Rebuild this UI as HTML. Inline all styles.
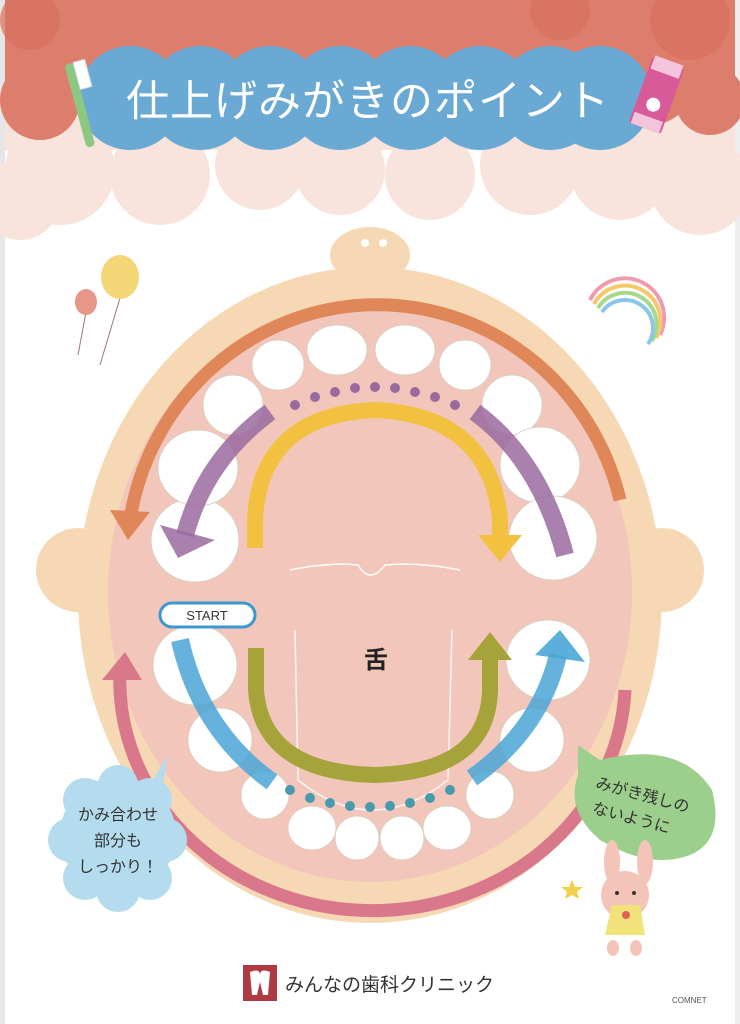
<!DOCTYPE html>
<html><head><meta charset="utf-8"><style>
html,body{margin:0;padding:0;background:#fff;width:740px;height:1024px;overflow:hidden}
svg{display:block}
text{font-family:"Liberation Sans","Noto Sans CJK JP",sans-serif}
</style></head><body>
<svg width="740" height="1024" viewBox="0 0 740 1024" xmlns="http://www.w3.org/2000/svg">
<rect width="740" height="1024" fill="#fff"/>
<rect x="0" y="0" width="5" height="1024" fill="#e6e6e6"/>
<rect x="735" y="0" width="5" height="1024" fill="#eeeeee"/>
<!-- light peach clouds -->
<g fill="#f8e4dc">
<rect x="5" y="0" width="730" height="150"/>
<circle cx="60" cy="170" r="55"/><circle cx="160" cy="175" r="50"/><circle cx="260" cy="165" r="45"/>
<circle cx="340" cy="170" r="45"/><circle cx="430" cy="175" r="45"/><circle cx="530" cy="165" r="50"/>
<circle cx="620" cy="170" r="50"/><circle cx="700" cy="185" r="50"/><circle cx="20" cy="200" r="40"/>
</g>
<!-- red clouds -->
<g fill="#dd7e6c">
<rect x="5" y="0" width="730" height="90"/>
<circle cx="40" cy="100" r="40"/><circle cx="110" cy="80" r="40"/><circle cx="650" cy="80" r="45"/><circle cx="710" cy="100" r="35"/>
<circle cx="250" cy="90" r="30"/><circle cx="480" cy="90" r="30"/>
</g>
<g fill="#d8705e" opacity="0.7"><circle cx="30" cy="20" r="30"/><circle cx="690" cy="20" r="40"/><circle cx="560" cy="10" r="30"/></g>
<!-- title circles -->
<g fill="#6aa9d4">
<circle cx="130" cy="98" r="52"/><circle cx="200" cy="98" r="52"/><circle cx="270" cy="98" r="52"/>
<circle cx="340" cy="98" r="52"/><circle cx="410" cy="98" r="52"/><circle cx="480" cy="98" r="52"/>
<circle cx="550" cy="98" r="52"/><circle cx="600" cy="98" r="52"/>
</g>
<text x="368" y="116" text-anchor="middle" font-size="43" fill="#fff" letter-spacing="1">仕上げみがきのポイント</text>
<!-- toothbrush -->
<g transform="rotate(-15 80 100)"><rect x="74" y="62" width="9" height="86" rx="4" fill="#8cc880"/><rect x="83" y="62" width="12" height="28" fill="#fff" stroke="#cfd8e8"/></g>
<!-- toothpaste -->
<g transform="rotate(20 655 100)"><rect x="638" y="60" width="34" height="70" rx="3" fill="#d85a98"/><rect x="640" y="58" width="30" height="14" fill="#f4c4dc"/><rect x="640" y="118" width="30" height="12" fill="#f4c4dc"/><circle cx="655" cy="105" r="7" fill="#fff"/></g>
<!-- head -->
<path d="M340 262 Q370 215 400 262 Z" fill="#f6d9b4"/>
<ellipse cx="370" cy="255" rx="40" ry="28" fill="#f6d9b4"/>
<circle cx="365" cy="243" r="4" fill="#fff"/><circle cx="383" cy="243" r="4" fill="#fff"/>
<circle cx="78" cy="570" r="42" fill="#f6d9b4"/><circle cx="662" cy="570" r="42" fill="#f6d9b4"/>
<ellipse cx="370" cy="595" rx="292" ry="328" fill="#f6d9b4"/>
<!-- mouth -->
<ellipse cx="370" cy="592" rx="262" ry="290" fill="#f2c6bb"/>
<path d="M130 520 A250 255 0 0 1 620 500" fill="none" stroke="#e0875a" stroke-width="13"/>
<polygon points="110,510 150,512 128,540" fill="#e0875a"/>
<path d="M120 670 A252 230 0 0 0 625 690" fill="none" stroke="#d9788a" stroke-width="13"/>
<polygon points="102,680 142,680 125,652" fill="#d9788a"/>
<!-- palate lines -->
<path d="M290 570 Q330 562 358 565 Q370 585 385 565 Q420 562 460 570" fill="none" stroke="#fff" stroke-width="1.5"/>
<path d="M295 630 L298 780 Q372 840 448 780 L452 630" fill="none" stroke="#fff" stroke-width="1.5" opacity="0.8"/>
<!-- teeth -->
<g fill="#fff" stroke="#d9cfc2" stroke-width="1">
<ellipse cx="195" cy="540" rx="44" ry="42"/><ellipse cx="198" cy="468" rx="40" ry="38"/><ellipse cx="233" cy="405" rx="30" ry="30"/>
<ellipse cx="278" cy="365" rx="26" ry="25"/><ellipse cx="337" cy="350" rx="30" ry="25"/><ellipse cx="405" cy="350" rx="30" ry="25"/>
<ellipse cx="465" cy="365" rx="26" ry="25"/><ellipse cx="512" cy="405" rx="30" ry="30"/><ellipse cx="540" cy="465" rx="40" ry="38"/><ellipse cx="553" cy="538" rx="44" ry="42"/>
<ellipse cx="195" cy="665" rx="42" ry="40"/><ellipse cx="220" cy="740" rx="32" ry="32"/><ellipse cx="265" cy="795" rx="24" ry="24"/>
<ellipse cx="312" cy="828" rx="24" ry="22"/><ellipse cx="357" cy="838" rx="22" ry="22"/><ellipse cx="402" cy="838" rx="22" ry="22"/>
<ellipse cx="447" cy="828" rx="24" ry="22"/><ellipse cx="490" cy="795" rx="24" ry="24"/><ellipse cx="532" cy="740" rx="32" ry="32"/><ellipse cx="548" cy="660" rx="42" ry="40"/>
</g>
<!-- purple dots -->
<g fill="#9a6a9e">
<circle cx="295" cy="405" r="5"/><circle cx="315" cy="397" r="5"/><circle cx="335" cy="392" r="5"/><circle cx="355" cy="388" r="5"/><circle cx="375" cy="387" r="5"/><circle cx="395" cy="388" r="5"/><circle cx="415" cy="392" r="5"/><circle cx="435" cy="397" r="5"/><circle cx="455" cy="405" r="5"/>
</g>
<!-- purple arrows -->
<path d="M270 412 Q205 460 185 535" fill="none" stroke="#9a6aa0" stroke-width="18" opacity="0.85"/>
<polygon points="160,525 215,540 178,558" fill="#9a6aa0" opacity="0.85"/>
<path d="M475 412 Q540 460 565 555" fill="none" stroke="#9a6aa0" stroke-width="18" opacity="0.85"/>
<!-- yellow arc -->
<path d="M255 548 L255 520 Q260 415 375 410 Q490 415 500 520 L500 535" fill="none" stroke="#f2c140" stroke-width="16"/>
<polygon points="478,535 522,535 500,562" fill="#f2c140"/>
<!-- olive arc -->
<path d="M256 648 L256 690 Q262 772 375 775 Q488 772 490 690 L490 660" fill="none" stroke="#a6a33a" stroke-width="16"/>
<polygon points="468,660 512,660 490,632" fill="#a6a33a"/>
<!-- blue dots -->
<g fill="#4a9aae">
<circle cx="290" cy="790" r="5"/><circle cx="310" cy="798" r="5"/><circle cx="330" cy="803" r="5"/><circle cx="350" cy="806" r="5"/><circle cx="370" cy="807" r="5"/><circle cx="390" cy="806" r="5"/><circle cx="410" cy="803" r="5"/><circle cx="430" cy="798" r="5"/><circle cx="450" cy="790" r="5"/>
</g>
<!-- blue arrows -->
<path d="M180 640 Q200 730 272 782" fill="none" stroke="#4aa6d6" stroke-width="18" opacity="0.85"/>
<path d="M472 778 Q540 730 558 655" fill="none" stroke="#4aa6d6" stroke-width="18" opacity="0.85"/>
<polygon points="535,655 585,662 560,630" fill="#4aa6d6" opacity="0.9"/>
<!-- START -->
<rect x="160" y="603" width="95" height="24" rx="12" fill="#fff" stroke="#3a9ad0" stroke-width="3"/>
<text x="207" y="620" text-anchor="middle" font-size="13" fill="#333">START</text>
<!-- tongue -->
<text x="376" y="668" text-anchor="middle" font-size="24" font-weight="bold" fill="#222">舌</text>
<!-- blue bubble -->
<g fill="#b4dcee">
<polygon points="148,788 168,755 160,800"/>
<circle cx="118" cy="835" r="58"/><circle cx="85" cy="800" r="22"/><circle cx="150" cy="800" r="22"/><circle cx="70" cy="840" r="22"/><circle cx="165" cy="840" r="22"/><circle cx="85" cy="878" r="22"/><circle cx="150" cy="878" r="22"/><circle cx="118" cy="890" r="22"/><circle cx="118" cy="785" r="20"/>
</g>
<text font-size="16" fill="#333" text-anchor="middle"><tspan x="118" y="820">かみ合わせ</tspan><tspan x="118" y="846">部分も</tspan><tspan x="118" y="872">しっかり！</tspan></text>
<!-- green leaf -->
<path d="M578 745 L600 760 Q680 740 712 790 Q725 840 690 855 Q650 870 600 840 Q565 810 578 775 Z" fill="#9ccf8c"/>
<text font-size="16" fill="#333" text-anchor="middle" transform="rotate(15 640 805)"><tspan x="640" y="800">みがき残しの</tspan><tspan x="635" y="825">ないように</tspan></text>
<!-- bunny -->
<g>
<ellipse cx="612" cy="862" rx="8" ry="22" fill="#f4c4b8"/><ellipse cx="645" cy="862" rx="8" ry="22" fill="#f4c4b8"/>
<circle cx="625" cy="895" r="24" fill="#f4c4b8"/>
<path d="M605 935 L645 935 L640 905 L612 905 Z" fill="#f2e27a"/>
<circle cx="617" cy="893" r="2" fill="#333"/><circle cx="634" cy="893" r="2" fill="#333"/>
<circle cx="626" cy="915" r="4" fill="#e0605a"/>
<ellipse cx="613" cy="948" rx="6" ry="8" fill="#f4c4b8"/><ellipse cx="636" cy="948" rx="6" ry="8" fill="#f4c4b8"/>
<polygon points="572,880 575,887 583,887 577,892 579,899 572,895 565,899 567,892 561,887 569,887" fill="#f2d24a"/>
</g>
<!-- balloons -->
<line x1="120" y1="298" x2="100" y2="365" stroke="#9a7a70"/><line x1="86" y1="312" x2="78" y2="355" stroke="#9a7a70"/>
<ellipse cx="120" cy="277" rx="19" ry="22" fill="#f3d675"/><ellipse cx="86" cy="302" rx="11" ry="13" fill="#e8958a"/>
<!-- rainbow -->
<g fill="none" stroke-width="4">
<path d="M590 300 A38 38 0 0 1 660 335" stroke="#f09ab0"/>
<path d="M594 304 A34 34 0 0 1 656 338" stroke="#f6c86a"/>
<path d="M598 308 A30 30 0 0 1 652 341" stroke="#a8d88a"/>
<path d="M602 312 A26 26 0 0 1 648 344" stroke="#8ac6ea"/>
</g>
<!-- logo -->
<rect x="243" y="965" width="34" height="36" fill="#b03a44"/>
<path d="M250 972 Q260 968 260 975 Q260 968 270 972 L268 995 L263 995 L260 982 L257 995 L252 995 Z" fill="#fff"/>
<text x="285" y="991" font-size="19" fill="#333">みんなの歯科クリニック</text>
<text x="672" y="1003" font-size="8" fill="#555">COMNET</text>
</svg>
</body></html>
